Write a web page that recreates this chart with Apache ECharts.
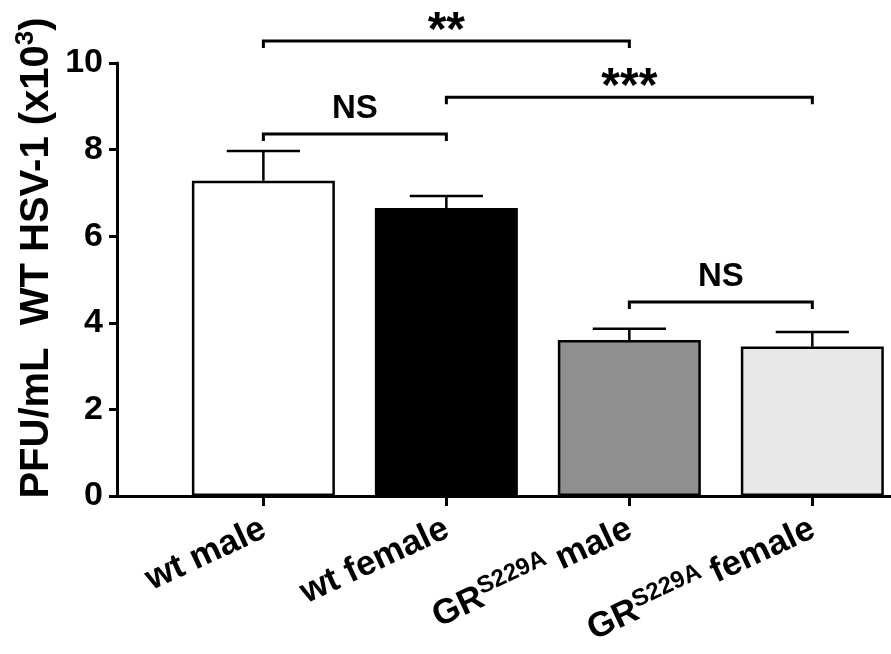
<!DOCTYPE html>
<html>
<head>
<meta charset="utf-8">
<script src="https://cdn.jsdelivr.net/npm/echarts@6/dist/echarts.min.js"></script>
<style>
html,body{margin:0;padding:0;background:#fff;}
#chart{width:891px;height:654px;}
</style>
</head>
<body>
<div id="chart"></div>
<script>
// ---- data ----
const categories = ['wt male', 'wt female', 'GRS229A male', 'GRS229A female'];
const means = [7.28, 6.65, 3.60, 3.45];
const upperErr = [7.97, 6.93, 3.86, 3.79];
const barColors = ['#ffffff', '#000000', '#8f8f8f', '#e8e8e8'];
const yTicks = [0, 2, 4, 6, 8, 10];
// significance brackets: [fromCategory, toCategory, bracketHeight]
const sigFrom = [0, 0, 1, 2];
const sigTo = [2, 1, 3, 3];
const sigHeight = [10.51, 8.36, 9.21, 4.48];
const sigLabels = ['**', 'NS', '***', 'NS'];

const FONT = '"Liberation Sans", Arial, Helvetica, sans-serif';
const chart = echarts.init(document.getElementById('chart'));

const barData = means.map((v, i) => ({ value: [i, v], itemStyle: { color: barColors[i] } }));
const errData = means.map((v, i) => [i, v, upperErr[i]]);
const sigData = sigLabels.map((s, i) => [sigFrom[i], sigTo[i], sigHeight[i]]);

function fmtLabel(v) {
  const name = categories[Math.round(v)];
  if (!name) return '';
  if (name.indexOf('S229A') >= 0) {
    const parts = name.split('S229A');
    return '{n|' + parts[0] + '}{s|S229A}{n|' + parts[1] + '}';
  }
  return '{n|' + name + '}';
}

const option = {
  backgroundColor: '#ffffff',
  animation: false,
  grid: { left: 117, right: 0, top: 63, bottom: 158 },
  xAxis: {
    type: 'value',
    min: -0.8,
    max: 3.43,
    splitLine: { show: false },
    axisLine: { show: true, onZero: false, lineStyle: { color: '#000', width: 3 } },
    axisTick: { show: true, customValues: [0, 1, 2, 3], length: 10, inside: false, lineStyle: { color: '#000', width: 3 } },
    axisLabel: {
      show: true,
      customValues: [0, 1, 2, 3],
      rotate: 25,
      margin: 30,
      formatter: fmtLabel,
      rich: {
        n: { fontFamily: FONT, fontWeight: 'bold', fontSize: 35, color: '#000', verticalAlign: 'bottom', lineHeight: 38 },
        s: { fontFamily: FONT, fontWeight: 'bold', fontSize: 24, color: '#000', verticalAlign: 'top', lineHeight: 38 }
      }
    }
  },
  yAxis: {
    type: 'value',
    min: 0,
    max: 10,
    interval: 2,
    splitLine: { show: false },
    axisLine: { show: true, onZero: false, lineStyle: { color: '#000', width: 3 } },
    axisTick: { show: true, length: 8, lineStyle: { color: '#000', width: 3 } },
    axisLabel: {
      margin: 14,
      color: '#000',
      fontFamily: FONT,
      fontWeight: 'bold',
      fontSize: 34,
      formatter: v => (yTicks.indexOf(v) >= 0 ? String(v) : '')
    }
  },
  graphic: [{
    type: 'text',
    x: 35,
    y: 258,
    rotation: Math.PI / 2,
    style: {
      text: '{a|PFU/mL  WT HSV-1 (x10}{s|3}{a|)}',
      align: 'center',
      verticalAlign: 'middle',
      textAlign: 'center',
      textVerticalAlign: 'middle',
      rich: {
        a: { fontFamily: FONT, fontWeight: 'bold', fontSize: 40, fill: '#000', color: '#000', verticalAlign: 'bottom', lineHeight: 44 },
        s: { fontFamily: FONT, fontWeight: 'bold', fontSize: 26, fill: '#000', color: '#000', verticalAlign: 'top', lineHeight: 44 }
      }
    }
  }],
  series: [
    {
      type: 'bar',
      data: barData,
      barWidth: 143,
      itemStyle: { borderColor: '#000', borderWidth: 2.5 },
      z: 2
    },
    {
      type: 'custom',
      data: errData,
      clip: false,
      z: 3,
      renderItem: function (params, api) {
        const x = api.value(0), m = api.value(1), u = api.value(2);
        const p0 = api.coord([x, m]);
        const p1 = api.coord([x, u]);
        const half = api.size([0.2, 0])[0];
        const st = { stroke: '#000', lineWidth: 2.5 };
        return {
          type: 'group',
          children: [
            { type: 'line', shape: { x1: p0[0], y1: p0[1], x2: p1[0], y2: p1[1] }, style: st },
            { type: 'line', shape: { x1: p1[0] - half, y1: p1[1], x2: p1[0] + half, y2: p1[1] }, style: st }
          ]
        };
      }
    },
    {
      type: 'custom',
      data: sigData,
      clip: false,
      z: 4,
      renderItem: function (params, api) {
        const a = api.value(0), b = api.value(1), h = api.value(2);
        const pa = api.coord([a, h]);
        const pb = api.coord([b, h]);
        const drop = 7;
        const label = sigLabels[params.dataIndex];
        const isStar = label.indexOf('*') >= 0;
        const st = { stroke: '#000', lineWidth: 3, fill: null };
        return {
          type: 'group',
          children: [
            { type: 'polyline', shape: { points: [[pa[0], pa[1] + drop], [pa[0], pa[1]], [pb[0], pb[1]], [pb[0], pb[1] + drop]] }, style: st },
            {
              type: 'text',
              x: (pa[0] + pb[0]) / 2,
              y: pa[1] - (isStar ? 9 : 25),
              style: {
                text: label,
                fill: '#000',
                font: 'bold ' + (isStar ? 48 : 33) + 'px ' + FONT,
                align: 'center',
                verticalAlign: 'middle',
                textAlign: 'center',
                textVerticalAlign: 'middle'
              }
            }
          ]
        };
      }
    }
  ]
};
chart.setOption(option);
</script>
</body>
</html>
